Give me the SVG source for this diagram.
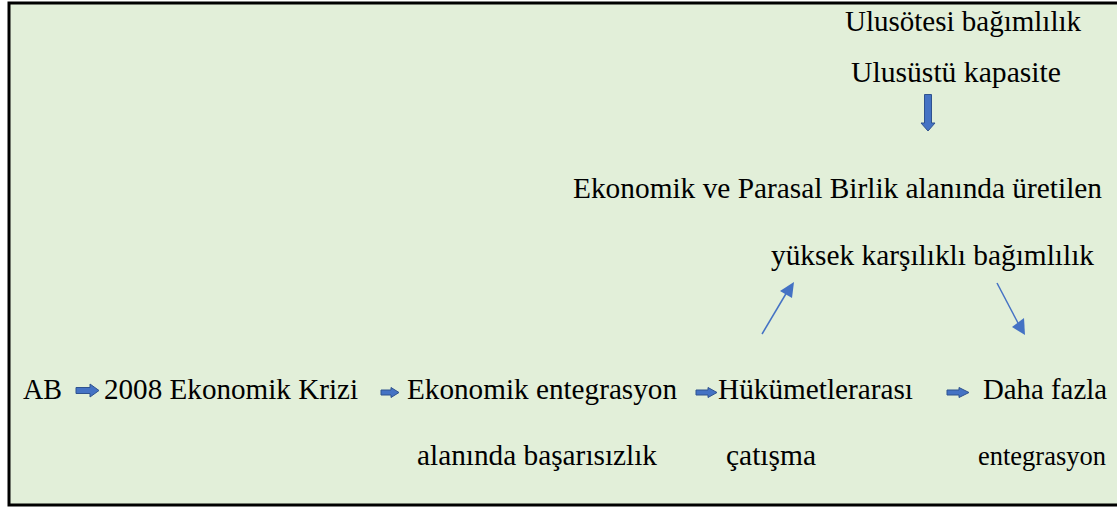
<svg xmlns="http://www.w3.org/2000/svg" width="1117" height="507" viewBox="0 0 1117 507">
<defs>
<style>
.t{font-family:'Liberation Serif','Times New Roman',serif;font-size:30px;fill:#000;}
.s{font-size:27px;}
.blk{fill:#4472C4;stroke:#2F528F;stroke-width:1;}
.ln{stroke:#4472C4;stroke-width:1.5;fill:none;}
.hd{fill:#4472C4;}
</style>
</defs>
<rect x="9" y="3" width="1115" height="502" fill="#E2EFD9" stroke="#000" stroke-width="3"/>
<g id="n-ulusotesi"><text class="t" x="845" y="31" textLength="236" lengthAdjust="spacingAndGlyphs">Ulusötesi bağımlılık</text></g>
<g id="n-ulusustu"><text class="t" x="851" y="82" textLength="210" lengthAdjust="spacingAndGlyphs">Ulusüstü kapasite</text></g>
<g id="n-emu"><text class="t" x="573" y="198" textLength="529" lengthAdjust="spacingAndGlyphs">Ekonomik ve Parasal Birlik alanında üretilen</text>
<text class="t" x="771" y="265" textLength="323" lengthAdjust="spacingAndGlyphs">yüksek karşılıklı bağımlılık</text></g>
<g id="n-ab"><text class="t" x="23" y="399" textLength="39" lengthAdjust="spacingAndGlyphs">AB</text></g>
<g id="n-kriz"><text class="t" x="104" y="399" textLength="254" lengthAdjust="spacingAndGlyphs">2008 Ekonomik Krizi</text></g>
<g id="n-basarisizlik"><text class="t" x="407" y="399" textLength="270" lengthAdjust="spacingAndGlyphs">Ekonomik entegrasyon</text>
<text class="t" x="417" y="465" textLength="240" lengthAdjust="spacingAndGlyphs">alanında başarısızlık</text></g>
<g id="n-catisma"><text class="t" x="718" y="399" textLength="195" lengthAdjust="spacingAndGlyphs">Hükümetlerarası</text>
<text class="t" x="726" y="465" textLength="90" lengthAdjust="spacingAndGlyphs">çatışma</text></g>
<g id="n-daha"><text class="t" x="983" y="399" textLength="124" lengthAdjust="spacingAndGlyphs">Daha fazla</text>
<text class="t s" x="978" y="465" textLength="128" lengthAdjust="spacingAndGlyphs">entegrasyon</text></g>
<g id="connectors">
<polygon class="blk" points="76,387.5 90,387.5 90,384 99,390.5 90,397 90,393.5 76,393.5"/>
<polygon class="blk" points="381,390 391,390 391,387.5 399,392.5 391,397.5 391,395 381,395"/>
<polygon class="blk" points="696,390 708,390 708,387.5 717,392.5 708,397.5 708,395 696,395"/>
<polygon class="blk" points="947,390 959,390 959,387.5 969,392.5 959,397.5 959,395 947,395"/>
<polygon class="blk" points="924.5,94.5 931.5,94.5 931.5,123 935,123 928,131 921,123 924.5,123"/>
<line class="ln" x1="762" y1="334" x2="787" y2="292"/>
<polygon class="hd" points="794,282 780,291 792,298"/>
<line class="ln" x1="997" y1="283" x2="1018" y2="323"/>
<polygon class="hd" points="1025,335 1012,327 1024,318"/>
</g>
</svg>
